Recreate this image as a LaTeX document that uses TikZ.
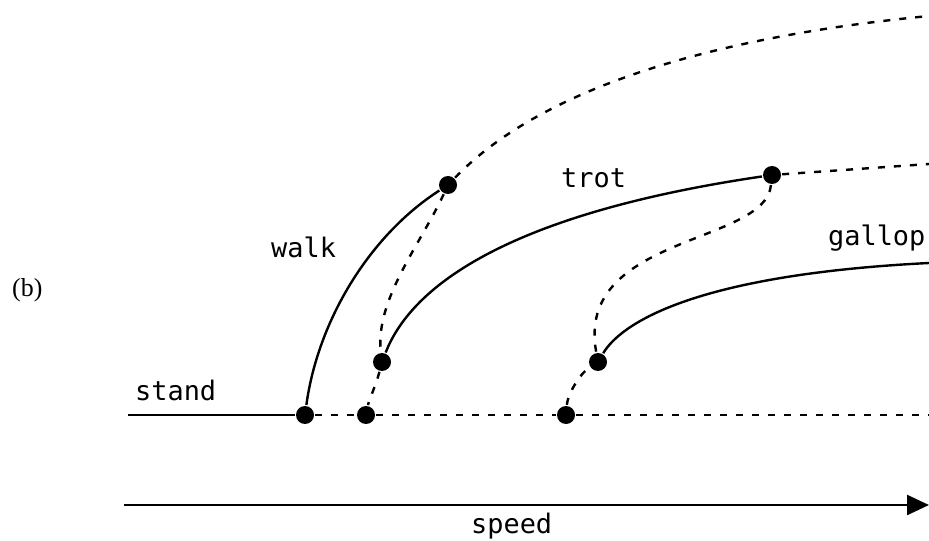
\documentclass[tikz,border=0pt]{standalone}
\usepackage{fontspec}
\setmainfont{Liberation Serif}
\newfontfamily\plotfont{DejaVu Sans Mono}
\usetikzlibrary{arrows.meta}

\begin{document}
\begin{tikzpicture}[x=1bp, y=-1bp, line width=2.4bp,
  gaitdot/.style={circle, fill=black, inner sep=0pt, minimum size=18bp},
  lbl/.style={font=\plotfont\fontsize{27}{30}\selectfont, anchor=base west, inner sep=0pt},
  brk/.style={dash pattern=on 7bp off 9bp},
]
  \useasboundingbox (0,0) rectangle (929,541);

  % punkte: unten auf der ruhe-linie, dann die uebergaenge
  \node[gaitdot] (a) at (305,415) {};
  \node[gaitdot] (b) at (366,415) {};
  \node[gaitdot] (c) at (566,415) {};
  \node[gaitdot] (w) at (448,185) {};
  \node[gaitdot] (t0) at (382,362) {};
  \node[gaitdot] (t1) at (772,175) {};
  \node[gaitdot] (g0) at (598,362) {};
  \coordinate (s0) at (128,415);
  \coordinate (s1) at (929,415);
  \coordinate (e1) at (929,16);
  \coordinate (e2) at (929,164);
  \coordinate (e3) at (929,263);
  \coordinate (v0) at (124,505);
  \coordinate (v1) at (929,505);

  % stabile aeste
  \draw (s0) -- (a);
  \draw (a) .. controls (318,320) and (370,235) .. (w);
  \draw (t0) .. controls (410,290) and (500,215) .. (t1);
  \draw (g0) .. controls (620,325) and (690,275) .. (e3);

  % instabile aeste
  \draw[brk] (a) -- (b) -- (c) -- (s1);
  \draw[brk] (w) .. controls (530,100) and (680,40) .. (e1);
  \draw[brk] (t1) -- (e2);
  \draw[brk] (w) .. controls (420,245) and (375,300) .. (t0);
  \draw[brk] (t0) .. controls (376,385) and (369,400) .. (b);
  \draw[brk] (t1) .. controls (765,245) and (575,235) .. (g0);
  \draw[brk] (c) .. controls (568,392) and (582,372) .. (g0);

  \draw[-{Triangle[length=22bp,width=20bp]}] (v0) -- (v1);

  \node[lbl] (lstand) at (134,400) {stand};
  \node[lbl] (lwalk) at (270,258) {walk};
  \node[lbl] (ltrot) at (560,188) {trot};
  \node[lbl] (lgallop) at (827,246) {gallop};
  \node[lbl] (lspeed) at (470,533) {speed};
  \node[font=\fontsize{26}{30}\selectfont, anchor=base west, inner sep=0pt] (lb) at (11,297) {(b)};
\end{tikzpicture}
\end{document}
